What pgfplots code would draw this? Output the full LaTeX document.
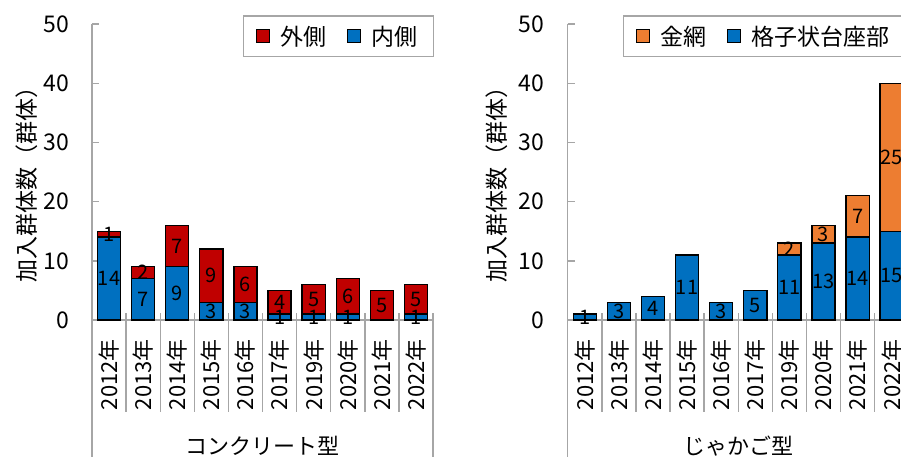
\documentclass[border=0pt]{standalone}
\usepackage{pgfplots}
\pgfplotsset{compat=1.18}
\usepackage{pgfplotstable}
\usepackage{fontspec}
\setmainfont{Noto Sans CJK JP}

\definecolor{barblue}{HTML}{0070C0}
\definecolor{barred}{HTML}{C00000}
\definecolor{barorange}{HTML}{ED7D31}
\definecolor{axgray}{HTML}{A6A6A6}

\newcommand{\fs}[1]{\fontsize{#1pt}{#1pt}\selectfont}

% コンクリート型: 内側 (下段), 外側 (上段)
\pgfplotstableread{
x inner outer
0 14 1
1 7 2
2 9 7
3 3 9
4 3 6
5 1 4
6 1 5
7 1 6
8 0 5
9 1 5
}\concrete

% じゃかご型: 格子状台座部 (下段), 金網 (上段)
\pgfplotstableread{
x base mesh
0 1 0
1 3 0
2 4 0
3 11 0
4 3 0
5 5 0
6 11 2
7 13 3
8 14 7
9 15 25
}\gabion

\pgfplotsset{
  panel/.style={
    scale only axis, width=341pt, height=296pt, anchor=south west,
    xmin=-0.5, xmax=9.5, ymin=0, ymax=50,
    axis lines*=left,
    axis line style={axgray, line width=1.4pt},
    ybar stacked, bar width=0.68,
    ytick={0,10,...,50}, tick align=inside, major tick length=7pt,
    ytick style={axgray, line width=1.4pt},
    xtick={0,...,9}, xtick style={draw=none},
    xticklabels={2012年,2013年,2014年,2015年,2016年,2017年,2019年,2020年,2021年,2022年},
    x tick label style={yshift=-19pt, rotate=90, anchor=east, inner sep=0pt, font=\fs{22}},
    y tick label style={anchor=east, inner sep=0pt, xshift=-23pt, font=\fs{23}},
    /pgf/number format/assume math mode=true,
    clip=false,
    ylabel={加入群体数（群体）},
    ylabel style={font=\fs{23}, anchor=center},
    legend columns=2, reverse legend,
    legend style={draw=axgray, line width=1.4pt, font=\fs{23},
      inner xsep=13pt, inner ysep=7pt,
      nodes={inner sep=3pt},
      /tikz/every odd column/.append style={column sep=7pt},
      /tikz/every even column/.append style={column sep=18pt}},
  },
  seg/.style={draw=black, line width=1.3pt, fill=#1,
    legend image code/.code={\draw[fill=#1, draw=black, line width=1pt] (0pt,-6.5pt) rectangle (13pt,6.5pt);}},
  % value labels, centred in each segment; zero segments get none
  vals/.style={
    point meta=\thisrow{#1},
    nodes near coords={\pgfmathfloatifflags{\pgfplotspointmeta}{0}{}{\pgfmathprintnumber{\pgfplotspointmeta}}},
    every node near coord/.append style={anchor=center, inner sep=0pt, font=\fs{20}, text=black}},
}

\begin{document}
\begin{tikzpicture}
\useasboundingbox (0,0) rectangle (901pt,456pt);
\clip (0,0) rectangle (901pt,456pt);

\begin{axis}[panel, at={(92pt,136pt)},
  ylabel style={at={(axis description cs:-0.191,0.476)}},
  legend style={at={(1.003,1.03)}, anchor=north east}]
  \addplot[seg=barblue, vals=inner] table[x=x, y=inner] {\concrete};
  \addplot[seg=barred, vals=outer] table[x=x, y=outer] {\concrete};
  \legend{内側,外側}
  \pgfplotsinvokeforeach{0.5,1.5,...,8.5}{
    \draw[axgray, line width=1.4pt] (axis cs:#1,0) ++(0pt,7pt) -- ++(0pt,-99pt);
  }
  \draw[axgray, line width=1.4pt] (axis cs:-0.5,0) -- ++(0pt,-160pt);
  \draw[axgray, line width=1.4pt] (axis cs:9.5,0) ++(0pt,7pt) -- ++(0pt,-167pt);
  \node[font=\fs{22}, anchor=center] at (axis cs:4.5,0) [yshift=-126pt] {コンクリート型};
\end{axis}

\begin{axis}[panel, at={(567.7pt,136pt)},
  ylabel style={at={(axis description cs:-0.208,0.476)}},
  legend style={at={(0.161,1.03)}, anchor=north west}]
  \addplot[seg=barblue, vals=base] table[x=x, y=base] {\gabion};
  \addplot[seg=barorange, vals=mesh] table[x=x, y=mesh] {\gabion};
  \legend{格子状台座部,金網}
  \pgfplotsinvokeforeach{0.5,1.5,...,8.5}{
    \draw[axgray, line width=1.4pt] (axis cs:#1,0) ++(0pt,7pt) -- ++(0pt,-99pt);
  }
  \draw[axgray, line width=1.4pt] (axis cs:-0.5,0) -- ++(0pt,-160pt);
  \draw[axgray, line width=1.4pt] (axis cs:9.5,0) ++(0pt,7pt) -- ++(0pt,-167pt);
  \node[font=\fs{22}, anchor=center] at (axis cs:4.5,0) [yshift=-126pt] {じゃかご型};
\end{axis}
\end{tikzpicture}
\end{document}
